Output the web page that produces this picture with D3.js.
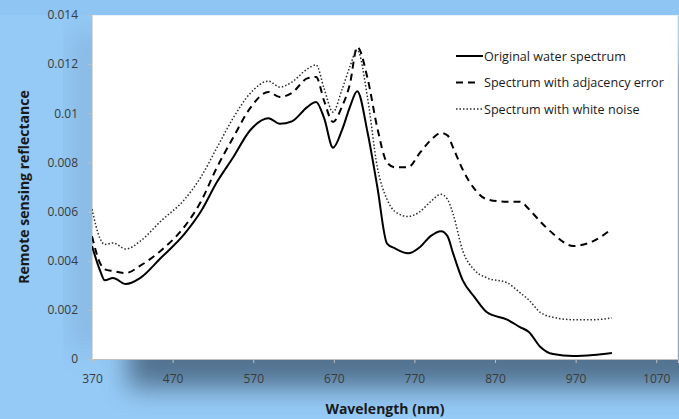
<!DOCTYPE html>
<html>
<head>
<meta charset="utf-8">
<script src="https://cdn.jsdelivr.net/npm/d3@7/dist/d3.min.js"></script>
<style>
  html, body { margin: 0; padding: 0; background: #95caf6; }
  svg { display: block; }
</style>
</head>
<body>
<svg id="chart" width="679" height="419"></svg>
<script>
// Wavelength sampling (nm) shared by all three spectra
const wavelengths = [370, 380, 386, 396, 412, 430, 455, 485, 505, 525, 545, 566, 589, 603, 618, 637, 648, 658, 669, 680, 690, 699, 712, 724, 736, 746, 762, 777, 790, 803, 811, 818, 830, 845, 860, 885, 901, 912, 926, 942, 967, 992, 1015];

// Remote sensing reflectance of each spectrum
const originalSpectrum = [0.0046, 0.0036, 0.0032, 0.0033, 0.00305, 0.0033, 0.0041, 0.0051, 0.0060, 0.0072, 0.0082, 0.0093, 0.0098, 0.00957, 0.00967, 0.01025, 0.01046, 0.0098, 0.0086, 0.0093, 0.01026, 0.0109, 0.0092, 0.0070, 0.0047, 0.0045, 0.0043, 0.00456, 0.0050, 0.0052, 0.0050, 0.0043, 0.0032, 0.0025, 0.0019, 0.0016, 0.0013, 0.0011, 0.0005, 0.0002, 0.00012, 0.00016, 0.00024];
const adjacencySpectrum = [0.0050, 0.0039, 0.00365, 0.00358, 0.0035, 0.0038, 0.0044, 0.0054, 0.0064, 0.0078, 0.0090, 0.0102, 0.01087, 0.01066, 0.01083, 0.01142, 0.01148, 0.0105, 0.00965, 0.01026, 0.0112, 0.0127, 0.0114, 0.0094, 0.0080, 0.0078, 0.0078, 0.0084, 0.0089, 0.0092, 0.0091, 0.0086, 0.0077, 0.0069, 0.0065, 0.0064, 0.0064, 0.0061, 0.0056, 0.0051, 0.0046, 0.0048, 0.0053];
const noiseSpectrum = [0.0061, 0.0049, 0.00466, 0.00472, 0.00448, 0.0048, 0.0056, 0.0065, 0.0074, 0.0086, 0.0098, 0.0108, 0.01131, 0.01107, 0.01127, 0.0118, 0.01197, 0.0110, 0.01005, 0.01095, 0.0119, 0.01258, 0.0106, 0.0078, 0.0065, 0.0060, 0.0058, 0.0060, 0.0064, 0.0067, 0.0065, 0.0059, 0.0044, 0.0036, 0.0033, 0.0031, 0.0027, 0.0024, 0.0019, 0.0017, 0.0016, 0.0016, 0.00167];

const seriesNames = ["Original water spectrum", "Spectrum with adjacency error", "Spectrum with white noise"];

const xTicks = [370, 470, 570, 670, 770, 870, 970, 1070];
const yTicks = [0, 0.002, 0.004, 0.006, 0.008, 0.01, 0.012, 0.014];

const svg = d3.select("#chart");
const W = 679, H = 419;
const plot = { left: 92, right: 678, top: 15, bottom: 359 };

const x = d3.scaleLinear().domain([370, 1097]).range([plot.left, plot.right]);
const y = d3.scaleLinear().domain([0, 0.014]).range([plot.bottom, plot.top]);

// Soft drop shadow beneath the white plot panel
const defs = svg.append("defs");
const blur = defs.append("filter").attr("id", "shadowBlur")
  .attr("x", "-30%").attr("y", "-30%").attr("width", "160%").attr("height", "160%");
blur.append("feGaussianBlur").attr("stdDeviation", 13);

svg.append("rect").attr("width", W).attr("height", H).attr("fill", "#95caf6");
svg.append("rect")
  .attr("x", 128).attr("y", 60).attr("width", 640).attr("height", 328)
  .attr("fill", "#46637f").attr("opacity", 0.85)
  .attr("filter", "url(#shadowBlur)");
svg.append("rect")
  .attr("x", 72).attr("y", 30).attr("width", 30).attr("height", 320)
  .attr("fill", "#6a90b5").attr("opacity", 0.3)
  .attr("filter", "url(#shadowBlur)");
svg.append("rect").attr("width", W).attr("height", plot.top).attr("fill", "#8ec5f3");

// Plot panel
svg.append("rect")
  .attr("x", plot.left).attr("y", plot.top)
  .attr("width", plot.right - plot.left).attr("height", plot.bottom - plot.top)
  .attr("fill", "#ffffff");
svg.append("line")
  .attr("x1", plot.right).attr("x2", plot.right)
  .attr("y1", plot.top).attr("y2", plot.bottom)
  .attr("stroke", "#d9d9d9").attr("stroke-width", 1);
svg.append("line")
  .attr("x1", plot.left).attr("x2", plot.right)
  .attr("y1", plot.top + 0.5).attr("y2", plot.top + 0.5)
  .attr("stroke", "#e8f2fb").attr("stroke-width", 1);

const tickFont = "'Open Sans', 'DejaVu Sans', sans-serif";

// X axis
const xAxis = svg.append("g")
  .attr("transform", `translate(0,${plot.bottom})`)
  .call(d3.axisBottom(x).tickValues(xTicks).tickFormat(d3.format("d")).tickSize(4).tickPadding(11));
xAxis.select(".domain").attr("stroke", "#bfbfbf").attr("stroke-width", 1.2);
xAxis.selectAll(".tick line").attr("stroke", "#bfbfbf");
xAxis.selectAll(".tick text")
  .attr("fill", "#3a3a3a").style("font-family", tickFont).style("font-size", "12px");

// Y axis
const yAxis = svg.append("g")
  .attr("transform", `translate(${plot.left},0)`)
  .call(d3.axisLeft(y).tickValues(yTicks).tickFormat(d => d === 0 ? "0" : String(+d.toFixed(3))).tickSize(4).tickPadding(10));
yAxis.select(".domain").attr("stroke", "#d9d9d9").attr("stroke-width", 1);
yAxis.selectAll(".tick line").attr("stroke", "#bfbfbf");
yAxis.selectAll(".tick text")
  .attr("fill", "#3a3a3a").style("font-family", tickFont).style("font-size", "12px");

// Axis titles
svg.append("text")
  .attr("x", 385).attr("y", 414)
  .attr("text-anchor", "middle")
  .style("font-family", tickFont).style("font-size", "14px").style("font-weight", "bold")
  .attr("fill", "#1a1a1a")
  .text("Wavelength (nm)");
svg.append("text")
  .attr("transform", "translate(29,187) rotate(-90)")
  .attr("text-anchor", "middle")
  .style("font-family", tickFont).style("font-size", "14px").style("font-weight", "bold")
  .attr("fill", "#1a1a1a")
  .text("Remote sensing reflectance");

// Spectra
const styles = [
  { values: originalSpectrum, width: 2, dash: null, color: "#000000" },
  { values: adjacencySpectrum, width: 2, dash: "7,5", color: "#000000" },
  { values: noiseSpectrum, width: 1.5, dash: "1.5,2", color: "#2a2a2a" }
];

const line = d3.line()
  .x(d => x(d[0]))
  .y(d => y(d[1]))
  .curve(d3.curveMonotoneX);

const clip = defs.append("clipPath").attr("id", "plotClip");
clip.append("rect").attr("x", plot.left).attr("y", plot.top)
  .attr("width", plot.right - plot.left).attr("height", plot.bottom - plot.top);

svg.append("g").attr("clip-path", "url(#plotClip)")
  .selectAll("path")
  .data(styles)
  .join("path")
  .attr("d", s => line(wavelengths.map((w, i) => [w, s.values[i]])))
  .attr("fill", "none")
  .attr("stroke", s => s.color)
  .attr("stroke-width", s => s.width)
  .attr("stroke-dasharray", s => s.dash)
  .attr("stroke-linejoin", "round");

// Legend
const legend = svg.append("g").attr("transform", "translate(456,56)");
const rows = legend.selectAll("g")
  .data(styles)
  .join("g")
  .attr("transform", (d, i) => `translate(0,${i * 26.5})`);
rows.append("line")
  .attr("x1", 0).attr("x2", (d, i) => i === 1 ? 21 : 27)
  .attr("y1", 0).attr("y2", 0)
  .attr("stroke", d => d.color)
  .attr("stroke-width", d => d.width)
  .attr("stroke-dasharray", d => d.dash);
rows.append("text")
  .attr("x", 28).attr("y", 4.5)
  .style("font-family", tickFont).style("font-size", "12.6px")
  .attr("fill", "#1a1a1a")
  .text((d, i) => seriesNames[i]);
</script>
</body>
</html>
